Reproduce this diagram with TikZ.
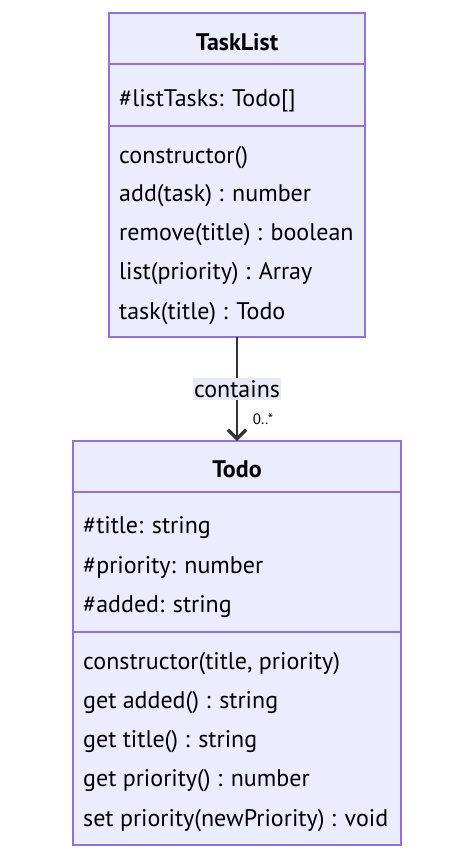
\documentclass[tikz,border=0pt]{standalone}
\usepackage{fontspec}
\setmainfont{PT Sans}
\usetikzlibrary{arrows.meta}
\definecolor{boxfill}{HTML}{ECECFF}
\definecolor{boxline}{HTML}{9370DB}
\definecolor{ink}{HTML}{333333}
\definecolor{lblbg}{HTML}{E8E8F8}
\begin{document}
\begin{tikzpicture}[x=1pt,y=-1pt,
  classbox/.style={draw=boxline,fill=boxfill,line width=1.2pt},
  divider/.style={draw=boxline,line width=1.2pt},
  member/.style={anchor=base west,inner sep=0pt,font=\fontsize{24}{28}\selectfont,text=black},
  title/.style={anchor=base,inner sep=0pt,font=\fontsize{24}{28}\selectfont\bfseries,text=black},
  conn/.style={draw=ink,line width=2pt,-{Straight Barb[length=9pt,width=18pt,line width=3.2pt]}},
  lbl/.style={fill=lblbg,inner xsep=1pt,inner ysep=2pt,font=\fontsize{24}{28}\selectfont,text=black},
  mult/.style={inner sep=0pt,font=\fontsize{15}{18}\selectfont,text=black}]
\useasboundingbox (0,0) rectangle (472,857);
% TaskList
\path[classbox] (109,13) rectangle (365,337);
\coordinate (tlS) at (237,337);
\draw[divider] (109,64) -- (365,64);
\draw[divider] (109,126) -- (365,126);
\node[title] (tlt) at (237,50) {TaskList};
\node[member] (tla1) at (119,106) {\#listTasks: Todo[]};
\node[member] (tlm1) at (119,163) {constructor()};
\node[member] (tlm2) at (119,201) {add(task) : number};
\node[member] (tlm3) at (119,240) {remove(title) : boolean};
\node[member] (tlm4) at (119,279) {list(priority) : Array};
\node[member] (tlm5) at (119,319) {task(title) : Todo};
% Todo
\path[classbox] (73,441) rectangle (401,845);
\coordinate (tdN) at (237,441);
\draw[divider] (73,492) -- (401,492);
\draw[divider] (73,632) -- (401,632);
\node[title] (tdt) at (237,477) {Todo};
\node[member] (tda1) at (83,533) {\#title: string};
\node[member] (tda2) at (83,573) {\#priority: number};
\node[member] (tda3) at (83,612) {\#added: string};
\node[member] (tdm1) at (83,669) {constructor(title, priority)};
\node[member] (tdm2) at (83,708) {get added() : string};
\node[member] (tdm3) at (83,747) {get title() : string};
\node[member] (tdm4) at (83,786) {get priority() : number};
\node[member] (tdm5) at (83,826) {set priority(newPriority) : void};
% connector
\draw[conn] (tlS) -- (tdN);
\node[lbl] (lab) at (237,389) {contains};
\node[mult] (m) at (263,419) {0..*};
\end{tikzpicture}
\end{document}
